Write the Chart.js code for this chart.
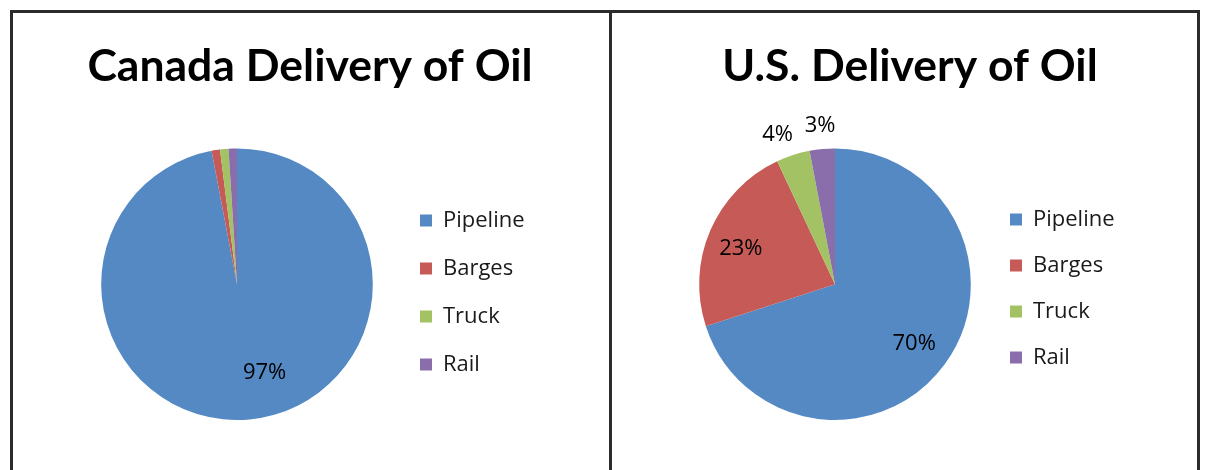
<!DOCTYPE html>
<html>
<head>
<meta charset="utf-8">
<script src="https://cdn.jsdelivr.net/npm/chart.js@4"></script>
<style>
  body { margin: 0; background: #fff; }
  #frame {
    position: absolute; left: 10px; top: 10px;
    border: 3px solid #2b2b2b; border-bottom: none;
    display: flex; height: 470px;
  }
  .panel { position: relative; height: 457px; }
  #leftPanel { width: 596px; }
  #rightPanel { width: 585px; border-left: 3px solid #2b2b2b; }
</style>
</head>
<body>
<div id="frame">
  <div class="panel" id="leftPanel"><canvas id="canadaChart"></canvas></div>
  <div class="panel" id="rightPanel"><canvas id="usChart"></canvas></div>
</div>
<script>
// Data lest av bildet
const categories = ["Pipeline", "Barges", "Truck", "Rail"];
const canadaShare = [97, 1, 1, 1];
const usShare = [70, 23, 4, 3];
const colors = ["#5489c4", "#c65a56", "#a3c264", "#8a6dab"];

// Tegner prosent-etiketter på/utenfor sektorene
const pieLabels = {
  id: "pieLabels",
  afterDatasetsDraw(chart, args, opts) {
    const ctx = chart.ctx;
    const meta = chart.getDatasetMeta(0);
    const values = chart.data.datasets[0].data;
    const total = values.reduce((a, b) => a + b, 0);
    ctx.save();
    ctx.font = opts.font;
    ctx.fillStyle = "#000";
    ctx.textAlign = "center";
    ctx.textBaseline = "middle";
    meta.data.forEach((arc, i) => {
      if (!opts.show[i]) return;
      const p = arc.getProps(["x", "y", "startAngle", "endAngle", "outerRadius"], true);
      const a = (p.startAngle + p.endAngle) / 2 + (opts.shift[i] || 0) * Math.PI / 180;
      const r = p.outerRadius * opts.radius[i];
      const txt = Math.round(values[i] / total * 100) + "%";
      ctx.fillText(txt, p.x + Math.cos(a) * r, p.y + Math.sin(a) * r);
    });
    ctx.restore();
  },
};

// Fast bredde på legenden, så kakediagrammet havner riktig
const legendWidth = {
  id: "legendWidth",
  afterInit(chart, args, opts) {
    const legend = chart.legend;
    const fit = legend.fit;
    legend.fit = function () {
      fit.call(this);
      this.width = opts.width;
    };
  },
};

function addPieChart(id, title, values, lay) {
  const ctx = document.getElementById(id);
  return new Chart(ctx, {
    type: "pie",
    data: {
      labels: categories,
      datasets: [
        {
          data: values,
          backgroundColor: colors,
          borderWidth: 0,
        },
      ],
    },
    plugins: [pieLabels, legendWidth],
    options: {
      responsive: true,
      maintainAspectRatio: false,
      animation: false,
      events: [],
      layout: { padding: lay.padding },
      plugins: {
        title: {
          display: true,
          text: title,
          color: "#000",
          font: { family: "Lato", size: 44.5, weight: "bold", lineHeight: 1.2 },
          padding: { top: 27, bottom: 55 },
        },
        legend: {
          position: "right",
          // tom tittel brukes bare for å skyve elementene ned
          title: { display: true, text: "", font: { size: 10 }, padding: { top: lay.legendShift, bottom: 0 } },
          labels: {
            boxWidth: 12,
            boxHeight: 12,
            padding: lay.legendPad,
            color: "#1a1a1a",
            font: { family: "Open Sans", size: 22 },
          },
        },
        tooltip: { enabled: false },
        legendWidth: { width: lay.legendWidth },
        pieLabels: {
          font: "22px 'Open Sans'",
          show: lay.show,
          radius: lay.radius,
          shift: lay.shift,
        },
      },
    },
  });
}

let canadaChart = addPieChart("canadaChart", "Canada Delivery of Oil", canadaShare, {
  padding: { left: 67, right: 69, top: 0, bottom: 50 },
  legendWidth: 146,
  legendPad: 26,
  legendShift: 140,
  show: [true, false, false, false],
  radius: [0.68, 0, 0, 0],
  shift: [-12, 0, 0, 0],
});

let usChart = addPieChart("usChart", "U.S. Delivery of Oil", usShare, {
  padding: { left: 72, right: 61, top: 0, bottom: 50 },
  legendWidth: 150,
  legendPad: 24,
  legendShift: 132,
  show: [true, true, true, true],
  radius: [0.73, 0.74, 1.18, 1.17],
  shift: [1, -3, -3, 0],
});
</script>
</body>
</html>
